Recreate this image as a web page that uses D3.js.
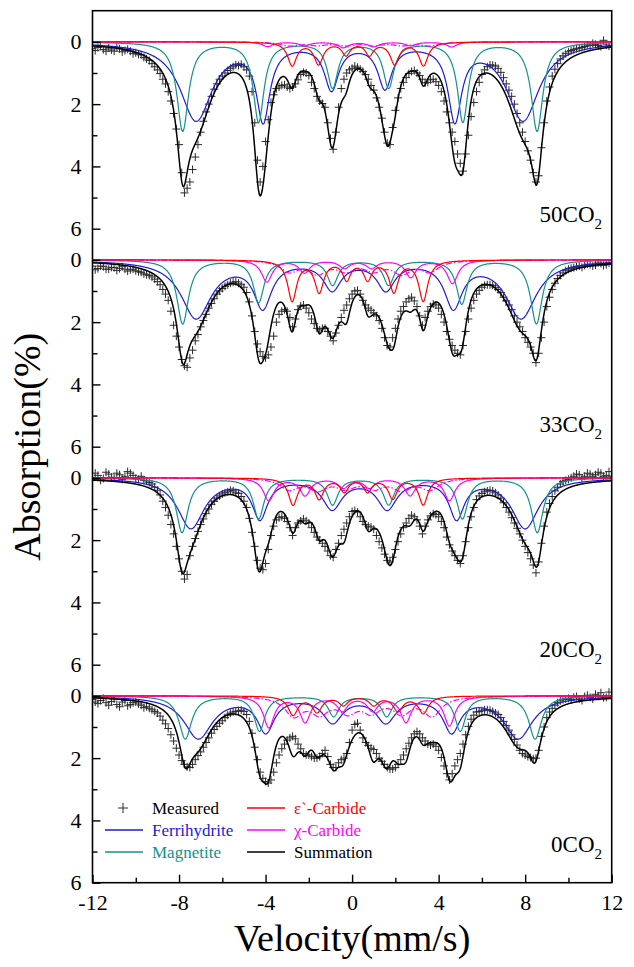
<!DOCTYPE html>
<html>
<head>
<meta charset="utf-8">
<script src="https://cdn.jsdelivr.net/npm/d3@7"></script>
<style>
  body { margin: 0; background: #fff; }
  svg { display: block; }
  svg text { font-family: "Liberation Serif", "Times New Roman", serif !important; }
</style>
</head>
<body>
<svg id="chart" width="634" height="967"></svg>
<script>
// channel velocities (mm/s) of the measured points, one row below = 1 mm/s
const velocity = d3.range(-12, 12.001, 0.125);

// measured absorption (%) per sample
const measured50 = [
  0.22,0.28,0.18,0.15,0.25,0.3,0.2,0.26,
  0.3,0.18,0.22,0.32,0.28,0.24,0.3,0.38,
  0.35,0.4,0.42,0.5,0.55,0.6,0.7,0.8,
  0.9,1.02,1.2,1.35,1.6,1.9,2.3,2.8,
  3.3,4.2,4.85,4.7,4.5,4.1,3.7,3.3,
  2.9,2.55,2.25,2.0,1.75,1.52,1.35,1.2,
  1.1,1.0,0.92,0.85,0.8,0.74,0.76,0.72,
  0.8,0.9,1.1,1.6,2.6,3.8,4.5,4.0,
  3.2,2.5,1.95,1.7,1.5,1.45,1.4,1.38,
  1.45,1.5,1.45,1.35,1.22,1.05,0.98,1.0,
  1.08,1.3,1.5,1.75,1.9,1.98,2.1,2.6,
  3.1,3.45,2.9,2.1,1.5,1.2,1.0,0.9,
  0.85,0.78,0.82,0.88,0.95,1.05,1.2,1.4,
  1.55,1.8,2.1,2.45,2.9,3.25,3.3,2.75,
  2.2,1.8,1.5,1.3,1.15,1.02,0.95,0.92,
  1.0,1.08,1.2,1.32,1.3,1.22,1.2,1.28,
  1.4,1.6,1.9,2.25,2.6,2.9,3.2,3.6,
  3.9,4.15,3.6,3.0,2.4,1.95,1.6,1.3,
  1.05,0.9,0.8,0.74,0.75,0.78,0.85,0.98,
  1.15,1.35,1.55,1.75,2.0,2.3,2.6,2.9,
  3.2,3.5,3.8,4.2,4.5,4.3,3.4,2.6,
  1.9,1.45,1.1,0.88,0.7,0.55,0.45,0.38,
  0.32,0.28,0.25,0.22,0.2,0.18,0.15,0.1,
  0.12,0.05,0.08,0.12,0.15,-0.05,0.1,0.14,
  0.12];
const measured33 = [
  0.2,0.32,0.28,0.2,0.22,0.3,0.3,0.24,
  0.25,0.34,0.28,0.22,0.3,0.36,0.32,0.3,
  0.35,0.38,0.4,0.45,0.48,0.5,0.55,0.62,
  0.7,0.8,0.95,1.1,1.3,1.65,2.1,2.45,
  2.8,3.2,3.4,3.45,3.15,2.9,2.6,2.4,
  2.15,1.95,1.75,1.55,1.4,1.25,1.1,1.0,
  0.92,0.85,0.8,0.75,0.72,0.7,0.75,0.8,
  0.88,1.05,1.35,1.8,2.3,2.7,2.95,3.1,
  3.15,3.05,2.8,2.45,2.0,1.75,1.65,1.6,
  1.65,1.85,2.15,1.9,1.6,1.48,1.45,1.55,
  1.7,1.9,2.05,2.2,2.25,2.2,2.2,2.3,
  2.45,2.6,2.35,2.1,1.85,1.62,1.45,1.25,
  1.1,1.0,0.98,1.1,1.3,1.45,1.55,1.62,
  1.7,1.8,1.95,2.2,2.5,2.75,2.8,2.5,
  2.2,1.9,1.65,1.5,1.35,1.25,1.2,1.32,
  1.5,1.8,2.1,1.85,1.65,1.5,1.42,1.45,
  1.55,1.75,2.0,2.3,2.55,2.75,2.9,3.0,
  3.05,2.75,2.3,1.9,1.55,1.3,1.1,0.98,
  0.88,0.82,0.8,0.8,0.82,0.88,0.95,1.05,
  1.2,1.32,1.45,1.6,1.8,2.0,2.15,2.3,
  2.5,2.65,2.8,3.0,3.3,3.0,2.5,2.0,
  1.5,1.2,0.95,0.75,0.6,0.5,0.42,0.35,
  0.3,0.27,0.25,0.22,0.2,0.24,0.18,0.14,
  0.15,0.2,0.17,0.1,0.12,0.18,0.15,0.1,
  0.14];
const measured20 = [
  0.05,-0.15,-0.08,0.08,0.02,-0.18,-0.12,-0.02,
  0.0,-0.15,-0.1,0.05,-0.05,-0.2,-0.15,-0.08,
  0.02,0.05,-0.05,0.08,0.1,0.15,0.2,0.3,
  0.4,0.55,0.75,0.95,1.2,1.5,1.8,2.2,
  2.6,3.0,3.25,3.1,2.5,2.2,1.95,1.72,
  1.5,1.32,1.15,1.0,0.85,0.75,0.65,0.58,
  0.52,0.48,0.45,0.4,0.42,0.48,0.5,0.6,
  0.75,0.95,1.3,1.75,2.2,2.65,2.9,2.95,
  2.75,2.3,1.85,1.55,1.35,1.28,1.25,1.3,
  1.4,1.6,1.85,1.6,1.45,1.38,1.32,1.38,
  1.45,1.6,1.75,1.9,2.0,2.1,2.2,2.35,
  2.5,2.55,2.3,2.1,1.85,1.65,1.45,1.25,
  1.08,1.05,1.1,1.25,1.4,1.5,1.55,1.58,
  1.65,1.85,2.05,2.25,2.45,2.65,2.7,2.55,
  2.3,2.05,1.8,1.6,1.45,1.3,1.2,1.25,
  1.35,1.55,1.8,1.55,1.35,1.22,1.15,1.18,
  1.25,1.4,1.6,1.9,2.15,2.35,2.5,2.65,
  2.75,2.5,2.05,1.6,1.25,0.95,0.7,0.58,
  0.5,0.45,0.42,0.4,0.42,0.48,0.55,0.65,
  0.8,0.95,1.1,1.28,1.45,1.62,1.8,2.0,
  2.2,2.4,2.6,2.8,3.05,2.7,2.1,1.55,
  1.1,0.82,0.6,0.42,0.3,0.2,0.12,0.08,
  0.05,0.0,-0.05,-0.12,-0.1,0.02,-0.05,-0.15,
  -0.12,-0.05,-0.1,-0.18,-0.15,-0.05,-0.08,-0.2,
  -0.05];
const measured0 = [
  0.12,0.2,0.25,0.15,0.08,0.22,0.3,0.18,
  0.1,0.28,0.35,0.2,0.15,0.32,0.28,0.22,
  0.2,0.26,0.3,0.38,0.35,0.4,0.45,0.5,
  0.55,0.65,0.78,0.9,1.05,1.25,1.45,1.68,
  1.9,2.08,2.2,2.28,2.3,2.2,2.05,1.92,
  1.8,1.65,1.5,1.35,1.2,1.08,0.98,0.88,
  0.8,0.7,0.62,0.56,0.52,0.5,0.48,0.46,
  0.5,0.6,0.82,1.2,1.65,2.05,2.45,2.65,
  2.75,2.8,2.7,2.45,2.15,1.9,1.7,1.55,
  1.42,1.35,1.3,1.38,1.55,1.7,1.85,1.9,
  1.9,1.95,2.0,2.0,1.95,1.85,1.75,1.95,
  2.2,2.3,2.3,2.15,2.05,2.0,1.85,1.5,
  1.1,0.92,0.88,1.1,1.35,1.5,1.6,1.68,
  1.72,1.85,2.0,2.1,2.2,2.3,2.35,2.35,
  2.3,2.2,2.05,1.9,1.7,1.52,1.35,1.22,
  1.15,1.22,1.35,1.45,1.55,1.58,1.55,1.62,
  1.75,1.98,2.25,2.5,2.7,2.5,2.25,2.05,
  1.85,1.55,1.25,0.98,0.75,0.62,0.52,0.5,
  0.48,0.45,0.45,0.46,0.5,0.55,0.6,0.7,
  0.82,0.95,1.1,1.25,1.4,1.58,1.75,1.85,
  1.9,1.95,1.98,2.02,2.0,1.75,1.3,1.0,
  0.7,0.52,0.4,0.3,0.22,0.16,0.12,0.1,
  0.08,0.12,0.05,0.02,0.1,0.15,0.02,-0.02,
  0.05,0.1,-0.05,0.02,-0.1,0.06,0.05,-0.12,
  0.08];

// fitted sextets: [line position mm/s, depth %, FWHM mm/s]
const ferri50 = [[-7.21,2.5,1.8],[-4.11,2.4,0.75],[-0.95,1.45,0.8],[1.52,1.4,0.8],[4.75,2.4,0.75],[7.9,2.5,1.8]];
const magn50  = [[-7.83,2.85,0.65],[-4.32,2.55,0.6],[-0.9,1.45,0.6],[1.69,1.45,0.6],[5.12,2.55,0.6],[8.55,2.85,0.65]];
const eps50   = [[-2.77,0.75,0.5],[-1.55,0.7,0.5],[-0.28,0.4,0.45],[0.8,0.4,0.45],[1.97,0.7,0.5],[3.3,0.75,0.5]];
const chi50   = [[-3.9,0.15,0.6],[-2.2,0.12,0.6],[-0.4,0.18,0.6],[1.0,0.15,0.6],[2.7,0.12,0.6],[4.6,0.16,0.6]];
const chiB50  = [[-2.9,0.12,1.0],[-1.6,0.1,1.0],[-0.3,0.1,1.0],[1.0,0.1,1.0],[2.3,0.1,1.0],[3.6,0.12,1.0]];

const ferri33 = [[-7.21,1.85,1.7],[-4.13,1.45,1.0],[-0.92,0.9,1.0],[1.56,0.9,1.0],[4.68,1.45,1.0],[7.81,1.85,1.7]];
const magn33  = [[-7.83,2.05,0.65],[-4.32,1.35,0.6],[-0.9,0.8,0.6],[1.69,0.8,0.6],[5.07,1.4,0.6],[8.52,2.05,0.65]];
const eps33   = [[-2.77,1.3,0.5],[-1.52,1.0,0.5],[-0.25,0.6,0.45],[0.72,0.6,0.45],[1.93,1.0,0.5],[3.29,1.3,0.5]];
const chi33   = [[-3.94,0.7,0.6],[-2.2,0.4,0.6],[-0.35,0.25,0.6],[0.9,0.25,0.6],[2.71,0.55,0.6],[4.64,0.75,0.6]];
const chiB33  = [[-2.9,0.35,1.0],[-1.6,0.4,1.0],[-0.3,0.3,1.0],[1.0,0.3,1.0],[2.3,0.4,1.0],[3.6,0.35,1.0]];

const ferri20 = [[-7.45,1.6,1.5],[-4.26,1.25,0.85],[-0.92,0.95,1.1],[1.62,0.95,1.1],[4.83,1.25,0.85],[8.0,1.6,1.5]];
const magn20  = [[-7.86,1.75,0.65],[-4.32,1.3,0.6],[-0.9,0.85,0.6],[1.69,0.85,0.6],[5.1,1.3,0.6],[8.56,1.75,0.65]];
const eps20   = [[-2.73,0.85,0.5],[-1.52,0.65,0.5],[-0.36,0.42,0.45],[0.72,0.42,0.45],[1.88,0.65,0.5],[3.29,0.85,0.5]];
const chi20   = [[-3.85,0.72,0.6],[-2.17,0.55,0.6],[-0.4,0.3,0.6],[0.8,0.3,0.6],[2.68,0.55,0.6],[4.5,0.72,0.6]];
const chiB20  = [[-2.9,0.35,1.0],[-1.6,0.35,1.0],[-0.3,0.3,1.0],[1.0,0.3,1.0],[2.3,0.35,1.0],[3.6,0.35,1.0]];

const ferri0 = [[-7.11,1.35,1.6],[-3.99,1.1,0.95],[-0.9,0.8,1.1],[1.56,0.8,1.1],[4.6,1.1,0.95],[7.68,1.35,1.6]];
const magn0  = [[-7.71,1.38,0.7],[-4.28,1.12,0.6],[-0.85,0.65,0.6],[1.6,0.65,0.6],[5.0,1.12,0.6],[8.46,1.38,0.7]];
const eps0   = [[-2.73,0.6,0.55],[-1.62,0.5,0.55],[-0.4,0.28,0.5],[1.0,0.28,0.5],[2.12,0.47,0.55],[3.29,0.55,0.55]];
const chi0   = [[-3.85,1.0,0.6],[-2.17,0.82,0.6],[-0.45,0.45,0.6],[0.95,0.45,0.6],[2.49,0.82,0.6],[4.5,0.95,0.6]];
const chiB0  = [[-2.7,0.6,1.0],[-1.5,0.5,1.0],[-0.2,0.45,1.0],[0.9,0.45,1.0],[2.3,0.5,1.0],[3.7,0.6,1.0]];

const sampleNames = ["50", "33", "20", "0"];
const xTicks = [-12, -8, -4, 0, 4, 8, 12];
const xMinor = [-10, -6, -2, 2, 6, 10];
const yTicks = [0, 2, 4, 6];
const yMinorTicks = [1, 3, 5];

const panels = [
  { name: sampleNames[0], measured: measured50, ferri: ferri50, magn: magn50, eps: eps50, chi: chi50, chiB: chiB50, labelAt: 5.79 },
  { name: sampleNames[1], measured: measured33, ferri: ferri33, magn: magn33, eps: eps33, chi: chi33, chiB: chiB33, labelAt: 5.53 },
  { name: sampleNames[2], measured: measured20, ferri: ferri20, magn: magn20, eps: eps20, chi: chi20, chiB: chiB20, labelAt: 5.74 },
  { name: sampleNames[3], measured: measured0,  ferri: ferri0,  magn: magn0,  eps: eps0,  chi: chi0,  chiB: chiB0,  labelAt: 5.0 }
];

const serif = "'Liberation Serif', 'Times New Roman', serif";
const colors = { ferri: "#1b1bd8", magn: "#14918b", eps: "#ff0000", chi: "#ff00ff", sum: "#000000" };

const svg = d3.select("#chart").style("font-family", serif);
const frame = { left: 92.5, right: 611.7, top: 10.7, bottom: 882.7 };
const step = 7; // each spectrum is shifted down by 7 % on the shared axis

const x = d3.scaleLinear().domain([-12, 12]).range([frame.left, frame.right]);
const y = d3.scaleLinear().domain([-1, 27]).range([frame.top, frame.bottom]);

// Lorentzian sextet
const absorb = (lines, v) => d3.sum(lines, ([p, d, w]) => d / (1 + ((v - p) / (w / 2)) ** 2));
const fine = d3.range(-12, 12.0001, 0.02);

svg.append("clipPath").attr("id", "clip")
  .append("rect")
  .attr("x", frame.left).attr("y", frame.top)
  .attr("width", frame.right - frame.left).attr("height", frame.bottom - frame.top);

const plot = svg.append("g").attr("clip-path", "url(#clip)");

panels.forEach((p, k) => {
  const off = k * step;
  const g = plot.append("g");

  // measured points
  g.selectAll("path.pt")
    .data(velocity.map((v, i) => [v, p.measured[i]]))
    .join("path")
    .attr("class", "pt")
    .attr("d", "M-4,0H4M0,-4V4")
    .attr("transform", d => `translate(${x(d[0])},${y(d[1] + off)})`)
    .attr("stroke", "#2a2a2a")
    .attr("stroke-width", 1)
    .attr("fill", "none");

  const line = d3.line().x(d => x(d[0])).y(d => y(d[1] + off));

  const comps = [
    { lines: p.ferri, color: colors.ferri },
    { lines: p.magn, color: colors.magn },
    { lines: p.chiB, color: colors.chi, dash: "6,2,1.5,2" },
    { lines: p.chi, color: colors.chi },
    { lines: p.eps, color: colors.eps }
  ];
  comps.forEach(c => {
    g.append("path")
      .datum(fine.map(v => [v, absorb(c.lines, v)]))
      .attr("d", line)
      .attr("fill", "none")
      .attr("stroke", c.color)
      .attr("stroke-width", 1.2)
      .attr("stroke-dasharray", c.dash || null);
  });

  const all = [].concat(p.ferri, p.magn, p.eps, p.chi, p.chiB);
  g.append("path")
    .datum(fine.map(v => [v, absorb(all, v)]))
    .attr("d", line)
    .attr("fill", "none")
    .attr("stroke", colors.sum)
    .attr("stroke-width", 1.5);

  // sample label
  const t = svg.append("text")
    .attr("x", 602)
    .attr("y", y(p.labelAt + off))
    .attr("text-anchor", "end")
    .style("font-family", serif)
    .attr("font-size", 23)
    .attr("fill", "#000");
  t.append("tspan").text(p.name + "CO");
  t.append("tspan").attr("font-size", 15).attr("dy", 7).text("2");
});

// axes
const yMajor = panels.flatMap((p, k) => yTicks.map(t => t + k * step));
const yMinor = panels.flatMap((p, k) => yMinorTicks.map(t => t + k * step));

svg.append("g").attr("transform", `translate(${frame.left},0)`)
  .call(d3.axisLeft(y).tickValues(yMajor).tickFormat(d => d % step)
    .tickSizeInner(-8).tickSizeOuter(0).tickPadding(11));
svg.append("g").attr("transform", `translate(${frame.left},0)`)
  .call(d3.axisLeft(y).tickValues(yMinor).tickFormat("").tickSizeInner(-5).tickSizeOuter(0));

svg.append("g").attr("transform", `translate(0,${frame.bottom})`)
  .call(d3.axisBottom(x).tickValues(xTicks).tickFormat(d => d < 0 ? "-" + Math.abs(d) : String(d))
    .tickSizeInner(-8).tickSizeOuter(0).tickPadding(12));
svg.append("g").attr("transform", `translate(0,${frame.bottom})`)
  .call(d3.axisBottom(x).tickValues(xMinor).tickFormat("").tickSizeInner(-5).tickSizeOuter(0));

svg.selectAll(".domain").remove();
svg.selectAll(".tick line").attr("stroke", "#000").attr("stroke-width", 1.4);
svg.selectAll("g").attr("font-family", null);
svg.selectAll(".tick text")
  .style("font-family", serif)
  .attr("font-size", 22).attr("fill", "#000");

svg.append("rect")
  .attr("x", frame.left).attr("y", frame.top)
  .attr("width", frame.right - frame.left).attr("height", frame.bottom - frame.top)
  .attr("fill", "none").attr("stroke", "#000").attr("stroke-width", 1.6);

// titles
svg.append("text")
  .attr("x", (frame.left + frame.right) / 2).attr("y", 951)
  .attr("text-anchor", "middle").attr("font-size", 38).attr("fill", "#000")
  .style("font-family", serif)
  .text("Velocity(mm/s)");
svg.append("text")
  .attr("transform", `translate(40,${(frame.top + frame.bottom) / 2}) rotate(-90)`)
  .attr("text-anchor", "middle").attr("font-size", 38).attr("fill", "#000")
  .style("font-family", serif)
  .text("Absorption(%)");

// legend
const legend = [
  { label: "Measured", color: "#000", cross: true, col: 0, row: 0 },
  { label: "Ferrihydrite", color: colors.ferri, col: 0, row: 1 },
  { label: "Magnetite", color: colors.magn, col: 0, row: 2 },
  { label: "\u03b5`-Carbide", color: colors.eps, col: 1, row: 0 },
  { label: "\u03c7-Carbide", color: colors.chi, col: 1, row: 1 },
  { label: "Summation", color: "#000", col: 1, row: 2 }
];
const lg = svg.append("g");
legend.forEach(d => {
  const lx = 105 + d.col * 142;
  const ly = 808 + d.row * 22;
  if (d.cross) {
    lg.append("path").attr("d", "M-5,0H5M0,-5V5")
      .attr("transform", `translate(${lx + 18},${ly})`)
      .attr("stroke", "#2a2a2a").attr("stroke-width", 1).attr("fill", "none");
  } else {
    lg.append("line").attr("x1", lx).attr("x2", lx + 38).attr("y1", ly).attr("y2", ly)
      .attr("stroke", d.color).attr("stroke-width", 1.5);
  }
  lg.append("text").attr("x", lx + 47).attr("y", ly + 6)
    .style("font-family", serif)
    .attr("font-size", 17).attr("fill", d.color).text(d.label);
});
</script>
</body>
</html>
